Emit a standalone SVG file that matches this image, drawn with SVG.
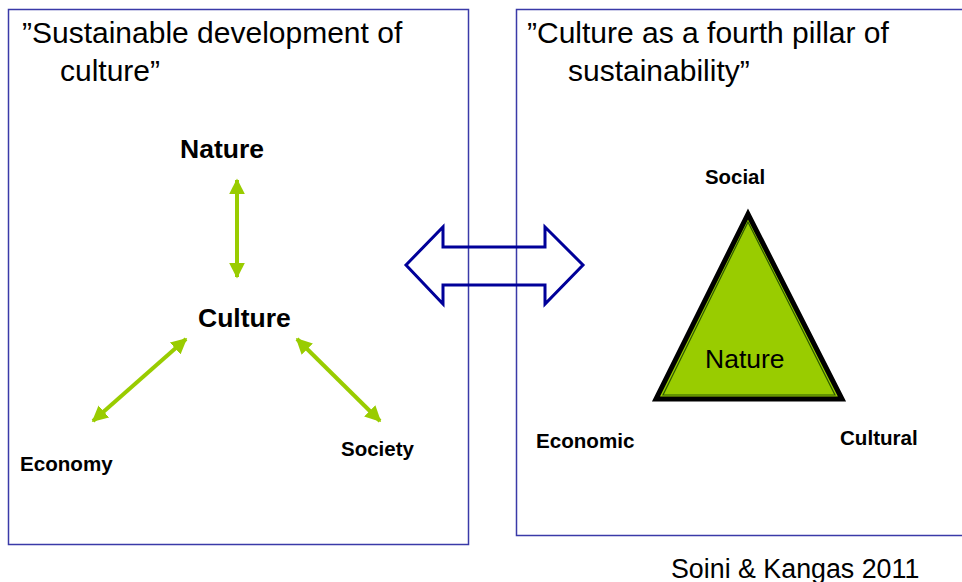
<svg xmlns="http://www.w3.org/2000/svg" width="962" height="582" viewBox="0 0 962 582">
<defs>
<style>
.box{fill:none;stroke:#3a3aa8;stroke-width:1.5}
.t{font-family:"Liberation Sans",Arial,sans-serif;fill:#000}
.title{font-size:30px}
.b{font-weight:bold}
.g{stroke:#99cc00;stroke-width:4;fill:none;marker-start:url(#ga);marker-end:url(#ga)}
</style>
<marker id="ga" viewBox="0 0 10 10" refX="9" refY="5" markerWidth="4" markerHeight="4" orient="auto-start-reverse" markerUnits="strokeWidth">
<path d="M0,0 L10,5 L0,10 Z" fill="#99cc00"/>
</marker>
</defs>
<rect width="962" height="582" fill="#fff"/>
<g id="left-panel">
<rect class="box" x="8.5" y="9.5" width="460" height="535"/>
<text class="t title" x="22" y="43">”Sustainable development of</text>
<text class="t title" x="60" y="81">culture”</text>
</g>
<g id="right-panel">
<rect class="box" x="516.5" y="9.5" width="450" height="526"/>
<text class="t title" x="527" y="43">”Culture as a fourth pillar of</text>
<text class="t title" x="568" y="81">sustainability”</text>
</g>
<g id="nature"><text class="t b" x="180" y="158" font-size="26.5">Nature</text></g>
<g id="culture"><text class="t b" x="198" y="327" font-size="26.5">Culture</text></g>
<g id="economy"><text class="t b" x="20" y="471" font-size="20.6">Economy</text></g>
<g id="society"><text class="t b" x="341" y="456" font-size="20.5">Society</text></g>
<g id="connectors">
<line class="g" x1="237" y1="180" x2="237" y2="277"/>
<line class="g" x1="186" y1="339" x2="93" y2="421"/>
<line class="g" x1="297" y1="339" x2="380" y2="421"/>
<path d="M406,265 L443,227 L443,247 L545,247 L545,227 L583,265 L545,304 L545,285 L443,285 L443,304 Z" fill="none" stroke="#000099" stroke-width="3" stroke-linejoin="miter"/>
</g>
<g id="triangle">
<polygon points="748,214 656,399 842,399" fill="#99cc00" stroke="#000" stroke-width="5" stroke-linejoin="miter"/>
<polygon points="748,222 663,395 835,395" fill="none" stroke="#2d5a00" stroke-width="1.2"/>
<text class="t" x="705" y="368" font-size="26.5">Nature</text>
</g>
<g id="social"><text class="t b" x="705" y="184" font-size="20.4">Social</text></g>
<g id="economic"><text class="t b" x="536" y="448" font-size="20.6">Economic</text></g>
<g id="cultural"><text class="t b" x="840" y="445" font-size="20.6">Cultural</text></g>
<g id="citation"><text class="t" x="671" y="578" font-size="26.8">Soini &amp; Kangas 2011</text></g>
</svg>
